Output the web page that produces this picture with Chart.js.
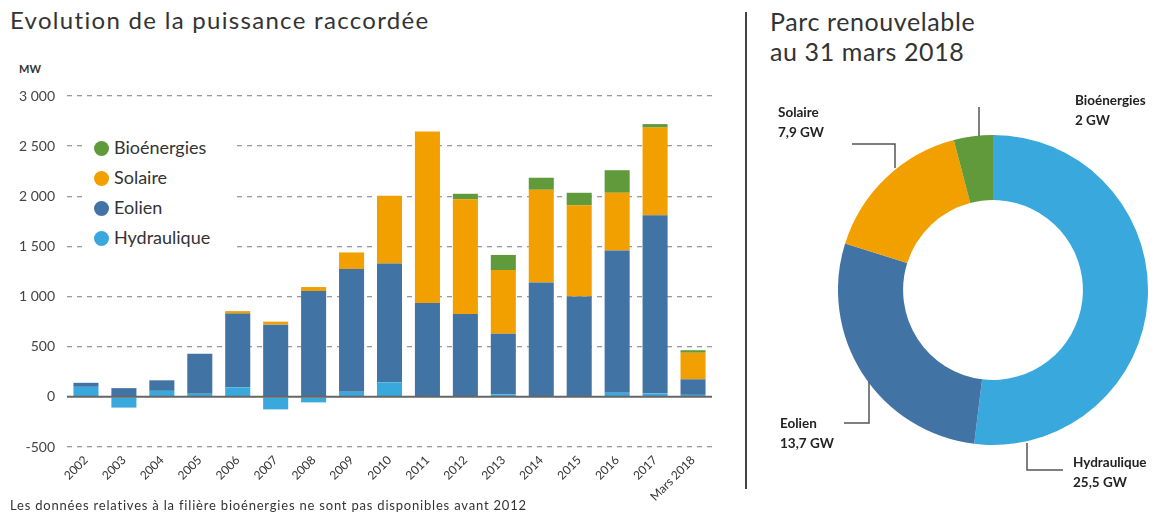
<!DOCTYPE html>
<html lang="fr">
<head>
<meta charset="utf-8">
<script src="https://cdn.jsdelivr.net/npm/chart.js@4.4.1/dist/chart.umd.min.js"></script>
<style>
  body { margin: 0; background: #fff; width: 1158px; height: 530px; position: relative; overflow: hidden; font-family: Lato, "Noto Sans", sans-serif; color: #333; }
  .abs { position: absolute; }
  #title1 { left: 10px; top: 5px; font-size: 24px; color: #333; letter-spacing: 1.3px; }
  #title2 { left: 770px; top: 6px; font-size: 25px; line-height: 30px; color: #333; letter-spacing: 0.6px; }
  #unit { left: 19px; top: 62px; font-size: 11px; font-weight: bold; color: #333; }
  #note { left: 10px; top: 497px; font-size: 13px; color: #333; letter-spacing: 0.8px; }
  #sep { left: 745px; top: 12px; width: 2px; height: 477px; background: #444; }
  #legend { left: 86px; top: 133px; width: 148px; height: 116px; background: #fff; }
  .lg { position: absolute; left: 8px; font-size: 18px; color: #333; line-height: 20px; white-space: nowrap; }
  .lg span { display: inline-block; width: 15px; height: 15px; border-radius: 50%; vertical-align: -2px; margin-right: 5px; }
  .dl { position: absolute; font-size: 13.5px; font-weight: bold; color: #222; line-height: 20px; white-space: nowrap; }
</style>
</head>
<body>
<div id="title1" class="abs">Evolution de la puissance raccordée</div>
<div id="title2" class="abs">Parc renouvelable<br>au 31 mars 2018</div>
<div id="unit" class="abs">MW</div>
<div id="sep" class="abs"></div>

<div class="abs" style="left:0;top:0;width:720px;height:530px;"><canvas id="bars"></canvas></div>
<div id="legend" class="abs"></div>
<div id="note" class="abs">Les données relatives à la filière bioénergies ne sont pas disponibles avant 2012</div>

<div class="abs" style="left:838px;top:135px;width:310px;height:310px;"><canvas id="donut"></canvas></div>
<svg class="abs" style="left:0;top:0" width="1158" height="530">
  <g stroke="#555" stroke-width="1.5" fill="none">
    <polyline points="979,107 979,136"/>
    <polyline points="852,144 895,144 895,168"/>
    <polyline points="844,423 869,423 869,382"/>
    <polyline points="1027,443 1027,470 1063,470"/>
  </g>
</svg>
<div id="donutLabels"></div>

<script>
const years = ['2002', '2003', '2004', '2005', '2006', '2007', '2008', '2009', '2010', '2011', '2012', '2013', '2014', '2015', '2016', '2017', 'Mars 2018'];
const hydraulique = [100, -107, 60, 30, 95, -125, -55, 50, 145, 0, 0, 25, 0, 0, 40, 35, 20];
const eolien = [40, 87, 105, 400, 735, 720, 1055, 1225, 1185, 935, 825, 605, 1140, 1000, 1420, 1775, 155];
const solaire = [0, 0, 0, 0, 25, 30, 40, 165, 675, 1710, 1145, 635, 925, 910, 575, 875, 265];
const bioenergies = [null, null, null, null, null, null, null, null, null, null, 55, 150, 120, 125, 225, 35, 25];
const yTicks = [-500, 0, 500, 1000, 1500, 2000, 2500, 3000];

const parcLabels = ['Hydraulique', 'Eolien', 'Solaire', 'Bioénergies'];
const parcGW = [25.5, 13.7, 7.9, 2];

const colors = {
    hydraulique: '#39a8dc',
    eolien: '#4273a5',
    solaire: '#f29f00',
    bio: '#619a3a'
};

// legend, same order as the reference
const legendItems = [['Bioénergies', colors.bio], ['Solaire', colors.solaire], ['Eolien', colors.eolien], ['Hydraulique', colors.hydraulique]];
const legendBox = document.getElementById('legend');
legendItems.forEach((item, i) => {
    const d = document.createElement('div');
    d.className = 'lg';
    d.style.top = (4 + i * 30) + 'px';
    d.innerHTML = '<span style="background:' + item[1] + '"></span>' + item[0];
    legendBox.appendChild(d);
});

const zeroLine = {
    id: 'zeroLine',
    afterDatasetsDraw(chart) {
        const y = chart.scales.y.getPixelForValue(0);
        const ctx = chart.ctx;
        ctx.save();
        ctx.strokeStyle = '#666';
        ctx.lineWidth = 2;
        ctx.beginPath();
        ctx.moveTo(chart.chartArea.left, y);
        ctx.lineTo(chart.chartArea.right, y);
        ctx.stroke();
        ctx.restore();
    }
};

function ds(label, data, color) {
    return { label: label, data: data, backgroundColor: color, borderWidth: 0, barPercentage: 0.66, categoryPercentage: 1 };
}

new Chart(document.getElementById('bars'), {
    type: 'bar',
    data: {
        labels: years,
        datasets: [
            ds('Hydraulique', hydraulique, colors.hydraulique),
            ds('Eolien', eolien, colors.eolien),
            ds('Solaire', solaire, colors.solaire),
            ds('Bioénergies', bioenergies, colors.bio)
        ]
    },
    options: {
        responsive: true,
        maintainAspectRatio: false,
        animation: false,
        layout: { padding: { top: 96, bottom: 23, left: 0, right: 8 } },
        plugins: { legend: { display: false }, tooltip: { enabled: false } },
        scales: {
            x: {
                stacked: true,
                grid: { display: false, drawTicks: false },
                border: { display: false },
                ticks: { maxRotation: 45, minRotation: 45, padding: 6, color: '#333', font: { family: 'Lato', size: 12 } },
                afterFit: (s) => { s.height = 60; }
            },
            y: {
                stacked: true,
                min: -500,
                max: 3000,
                afterBuildTicks: (s) => { s.ticks = yTicks.map(v => ({ value: v })); },
                grid: { color: (c) => c.tick && c.tick.value === 0 ? 'rgba(0,0,0,0)' : '#9a9a9a', lineWidth: 1.3, drawTicks: false },
                border: { display: false, dash: [5, 5] },
                ticks: {
                    padding: 12,
                    color: '#444',
                    font: { family: 'Lato', size: 14 },
                    callback: (v) => String(v).replace(/\B(?=(\d{3})+(?!\d))/g, ' ')
                },
                afterFit: (s) => { s.width = 67; }
            }
        }
    },
    plugins: [zeroLine]
});

new Chart(document.getElementById('donut'), {
    type: 'doughnut',
    data: {
        labels: parcLabels,
        datasets: [{
            data: parcGW,
            backgroundColor: [colors.hydraulique, colors.eolien, colors.solaire, colors.bio],
            borderWidth: 0
        }]
    },
    options: {
        responsive: true,
        maintainAspectRatio: false,
        animation: false,
        cutout: '58%',
        layout: { padding: 0 },
        plugins: { legend: { display: false }, tooltip: { enabled: false } }
    }
});

// labels of the ring
const labelPos = [[1073, 452], [780, 413], [778, 102], [1075, 90]];
const holder = document.getElementById('donutLabels');
parcLabels.forEach((name, i) => {
    const d = document.createElement('div');
    d.className = 'dl';
    d.style.left = labelPos[i][0] + 'px';
    d.style.top = labelPos[i][1] + 'px';
    d.innerHTML = name + '<br>' + String(parcGW[i]).replace('.', ',') + ' GW';
    holder.appendChild(d);
});
</script>
</body>
</html>
